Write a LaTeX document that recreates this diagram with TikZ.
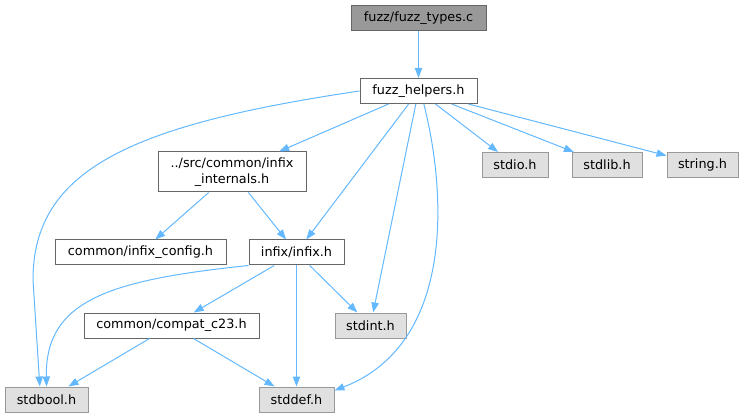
\documentclass[tikz,border=0pt]{standalone}
\usepackage{fontspec}
\setmainfont{DejaVu Sans}
\usetikzlibrary{arrows.meta}
\definecolor{edgeblue}{HTML}{63B8FF}
\definecolor{boxline}{HTML}{666666}
\definecolor{sysline}{HTML}{999999}
\definecolor{sysfill}{HTML}{E0E0E0}
\begin{document}
\begin{tikzpicture}[x=0.75pt,y=-0.75pt,
	file/.style={draw=boxline,fill=white,line width=0.75pt,inner sep=1pt,
		font=\fontsize{9.6}{11.5}\selectfont,minimum height=18.75pt},
	wd/.style={minimum width=#1*0.75pt},
	sys/.style={file,draw=sysline,fill=sysfill},
	dep/.style={edgeblue,line width=0.75pt,-{Triangle[length=7.5pt,width=5.5pt]}}]
	\useasboundingbox (0,0) rectangle (743,417);
	\node[file,wd=135,fill=sysline] (t) at (418.5,18) {fuzz/fuzz\_types.c};
	\node[file,wd=117] (h) at (418.5,91) {fuzz\_helpers.h};
	\node[file,wd=148,minimum height=30pt,align=center] (in) at (232,172) {../src/common/infix\\\_internals.h};
	\node[file,wd=171] (cf) at (140.5,252.5) {common/infix\_config.h};
	\node[file,wd=95] (i) at (296.5,252.5) {infix/infix.h};
	\node[file,wd=175] (cc) at (171.5,325.5) {common/compat\_c23.h};
	\node[sys,wd=71] (si) at (370.5,325.5) {stdint.h};
	\node[sys,wd=83] (sb) at (46.5,399.5) {stdbool.h};
	\node[sys,wd=75] (sd) at (296.5,399.5) {stddef.h};
	\node[sys,wd=66] (so) at (515,165) {stdio.h};
	\node[sys,wd=70] (sl) at (607,165) {stdlib.h};
	\node[sys,wd=71] (sg) at (702.5,165) {string.h};
	\draw[dep] (t) -- (h);
	\draw[dep] (h.west) .. controls (130,125) and (33,170) .. (33,280) -- ([xshift=-5pt]sb.north);
	\draw[dep] (h) -- (in);
	\draw[dep] (h) -- (i);
	\draw[dep] (h) -- (si);
	\draw[dep] ([xshift=4pt]h.south) .. controls (448,200) and (452,345) .. ([yshift=-3pt]sd.north east);
	\draw[dep] (h) -- (so);
	\draw[dep] (h) -- (sl);
	\draw[dep] (h) -- (sg);
	\draw[dep] (in) -- (cf);
	\draw[dep] (in) -- (i);
	\draw[dep] (i.south west) .. controls (110,280) and (45,300) .. (sb.north);
	\draw[dep] (i) -- (cc);
	\draw[dep] (i) -- (si);
	\draw[dep] (i) -- (sd);
	\draw[dep] (cc) -- (sb);
	\draw[dep] (cc) -- (sd);
\end{tikzpicture}
\end{document}
